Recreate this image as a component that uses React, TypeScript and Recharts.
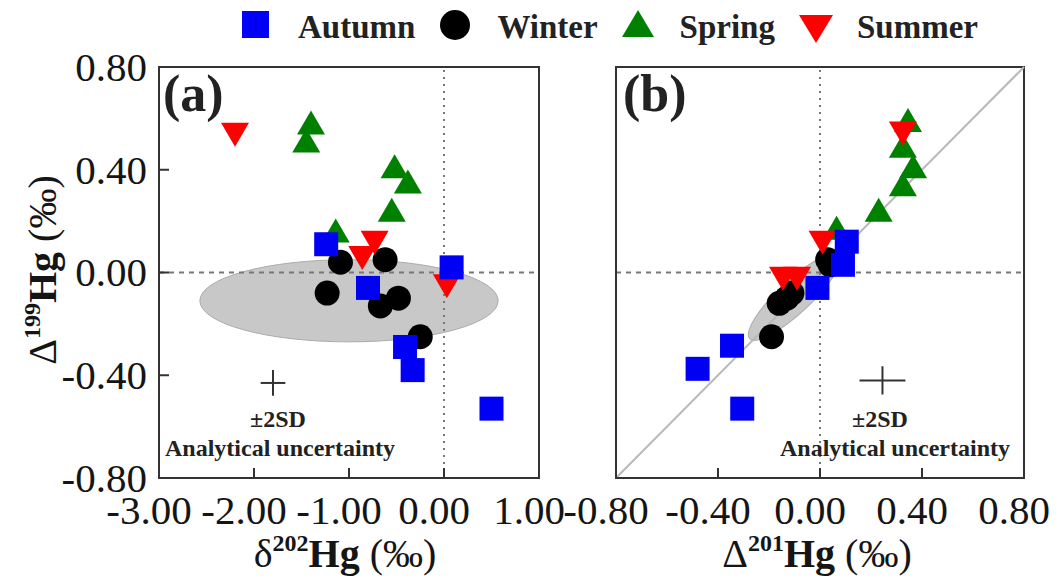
import React from "react";
import {
  ScatterChart,
  Scatter,
  XAxis,
  YAxis,
  ReferenceLine,
  ReferenceArea
} from "recharts";

const FONT = "'Liberation Serif', 'Times New Roman', serif";

// panel (a): [δ202Hg, Δ199Hg]
const autumnA = [[-1.24, 0.11], [-0.8, -0.06], [0.08, 0.02], [-0.41, -0.29], [-0.33, -0.38], [0.5, -0.53]];
const winterA = [[-1.09, 0.04], [-0.62, 0.05], [-1.23, -0.08], [-0.48, -0.1], [-0.67, -0.13], [-0.25, -0.25]];
const springA = [[-1.4, 0.58], [-1.45, 0.51], [-0.52, 0.41], [-0.38, 0.35], [-0.55, 0.24], [-1.14, 0.16]];
const summerA = [[-2.2, 0.54], [-0.73, 0.12], [-0.86, 0.06], [0.03, -0.05]];

// panel (b): [Δ201Hg, Δ199Hg]
const autumnB = [[0.105, 0.12], [0.09, 0.03], [-0.01, -0.06], [-0.345, -0.285], [-0.48, -0.375], [-0.305, -0.53]];
const winterB = [[0.03, 0.05], [0.04, 0.03], [-0.11, -0.08], [-0.13, -0.1], [-0.16, -0.12], [-0.19, -0.25]];
const springB = [[0.345, 0.59], [0.325, 0.49], [0.365, 0.41], [0.325, 0.34], [0.23, 0.24], [0.065, 0.17]];
const summerB = [[0.325, 0.545], [0.01, 0.12], [-0.09, -0.02], [-0.145, -0.02]];

const yTicks = [-0.8, -0.4, 0, 0.4, 0.8];
const xTicksA = [-3, -2, -1, 0, 1];
const xTicksB = [-0.8, -0.4, 0, 0.4, 0.8];

// gray fields: centre, half-widths, rotation
const fieldA = { cx: -1.0, cy: -0.11, a: 1.57, b: 0.16, angle: 0 };
const fieldB = { cx: -0.1, cy: -0.095, a: 0.24, b: 0.063, angle: -43 };

// ±2SD crosses
const sdA = { x: -1.8, y: -0.43, dx: 0.13, dy: 0.05 };
const sdB = { x: 0.245, y: -0.42, dx: 0.09, dy: 0.055 };

const toPts = (arr: number[][]) => arr.map(([x, y]) => ({ x, y }));

const Square = (p: any) => <rect x={p.cx - 12} y={p.cy - 12} width={24} height={24} fill="#0000f5" />;
const Circle = (p: any) => <circle cx={p.cx} cy={p.cy} r={12.5} fill="#000" />;
const TriUp = (p: any) => (
  <path d={`M${p.cx},${p.cy - 13} L${p.cx + 14},${p.cy + 11} L${p.cx - 14},${p.cy + 11} Z`} fill="#008000" />
);
const TriDown = (p: any) => (
  <path d={`M${p.cx - 14},${p.cy - 11} L${p.cx + 14},${p.cy - 11} L${p.cx},${p.cy + 13} Z`} fill="#ff0000" />
);

const seasons = [
  { name: "Autumn", legend: <rect x={2} y={2} width={27} height={27} fill="#0000f5" /> },
  { name: "Winter", legend: <circle cx={16} cy={16} r={15} fill="#000" /> },
  { name: "Spring", legend: <path d="M16,1 L32,28 L0,28 Z" fill="#008000" /> },
  { name: "Summer", legend: <path d="M0,6 L34,6 L17,34 Z" fill="#ff0000" /> }
];

const fieldShape = (angle: number) => (p: any) => {
  const cx = p.x + p.width / 2;
  const cy = p.y + p.height / 2;
  return (
    <ellipse
      cx={cx}
      cy={cy}
      rx={p.width / 2}
      ry={p.height / 2}
      transform={`rotate(${angle} ${cx} ${cy})`}
      fill="#c8c8c8"
      stroke="#ababab"
      strokeWidth={1}
    />
  );
};

const XTick = (p: any) => (
  <text x={p.x - 10} y={p.y} dy="0.71em" textAnchor="middle" fontFamily={FONT} fontSize={41} fill="#151515">
    {Number(p.payload.value).toFixed(2)}
  </text>
);
const YTick = (p: any) => (
  <text x={p.x} y={p.y} dy="0.34em" textAnchor="end" fontFamily={FONT} fontSize={41} fill="#151515">
    {Number(p.payload.value).toFixed(2)}
  </text>
);

function Panel({
  width,
  margin,
  xDomain,
  xTicks,
  field,
  sd,
  data,
  showYLabels,
  diagonal
}: any) {
  return (
    <ScatterChart width={width} height={581} margin={margin}>
      <XAxis
        type="number"
        dataKey="x"
        domain={xDomain}
        ticks={xTicks}
        interval={0}
        allowDataOverflow
        height={1}
        tickSize={-10}
        tickMargin={27}
        tick={<XTick />}
        axisLine={{ stroke: "#333", strokeWidth: 2 }}
        tickLine={{ stroke: "#333", strokeWidth: 2 }}
      />
      <YAxis
        type="number"
        dataKey="y"
        domain={[-0.8, 0.8]}
        ticks={yTicks}
        interval={0}
        allowDataOverflow
        width={1}
        tickSize={-10}
        tickMargin={22}
        tick={showYLabels ? <YTick /> : false}
        axisLine={{ stroke: "#333", strokeWidth: 2 }}
        tickLine={{ stroke: "#333", strokeWidth: 2 }}
      />
      <ReferenceArea
        x1={field.cx - field.a}
        x2={field.cx + field.a}
        y1={field.cy - field.b}
        y2={field.cy + field.b}
        shape={fieldShape(field.angle)}
      />
      {diagonal && (
        <ReferenceLine
          segment={[{ x: xDomain[0], y: -0.8 }, { x: xDomain[1], y: 0.8 }]}
          stroke="#b8b8b8"
          strokeWidth={2}
        />
      )}
      <ReferenceLine x={0} stroke="#777" strokeWidth={2} strokeDasharray="2 5" />
      <ReferenceLine y={0} stroke="#777" strokeWidth={2} strokeDasharray="5 5" />
      <ReferenceLine segment={[{ x: sd.x - sd.dx, y: sd.y }, { x: sd.x + sd.dx, y: sd.y }]} stroke="#333" strokeWidth={2} />
      <ReferenceLine segment={[{ x: sd.x, y: sd.y - sd.dy }, { x: sd.x, y: sd.y + sd.dy }]} stroke="#333" strokeWidth={2} />
      <ReferenceArea x1={xDomain[0]} x2={xDomain[1]} y1={-0.8} y2={0.8} fill="none" stroke="#333" strokeWidth={2} />
      <Scatter name="Spring" data={toPts(data.spring)} shape={TriUp} isAnimationActive={false} />
      <Scatter name="Winter" data={toPts(data.winter)} shape={Circle} isAnimationActive={false} />
      <Scatter name="Summer" data={toPts(data.summer)} shape={TriDown} isAnimationActive={false} />
      <Scatter name="Autumn" data={toPts(data.autumn)} shape={Square} isAnimationActive={false} />
    </ScatterChart>
  );
}

export default function App() {
  const noteStyle = { fontFamily: FONT, fontWeight: 700, fontSize: 24, fill: "#222" };
  return (
    <div style={{ position: "absolute", left: 0, top: 0, width: 1063, height: 581, background: "#fff", overflow: "hidden" }}>
      <div style={{ position: "absolute", left: 0, top: 0 }}>
        <Panel
          width={600}
          margin={{ top: 67, right: 61, bottom: 102, left: 158 }}
          xDomain={[-3, 1]}
          xTicks={xTicksA}
          field={fieldA}
          sd={sdA}
          data={{ autumn: autumnA, winter: winterA, spring: springA, summer: summerA }}
          showYLabels
        />
      </div>
      <div style={{ position: "absolute", left: 560, top: 0 }}>
        <Panel
          width={503}
          margin={{ top: 67, right: 39, bottom: 102, left: 55 }}
          xDomain={[-0.8, 0.8]}
          xTicks={xTicksB}
          field={fieldB}
          sd={sdB}
          data={{ autumn: autumnB, winter: winterB, spring: springB, summer: summerB }}
          diagonal
        />
      </div>

      {/* legend */}
      <div style={{ position: "absolute", left: 240, top: 6, height: 42, display: "flex", alignItems: "center", gap: 24 }}>
        {seasons.map(s => (
          <div key={s.name} style={{ display: "flex", alignItems: "center", gap: 24 }}>
            <svg width={34} height={36} viewBox="0 0 34 36">{s.legend}</svg>
            <span style={{ fontFamily: FONT, fontWeight: 700, fontSize: 33, color: "#222" }}>{s.name}</span>
          </div>
        ))}
      </div>

      {/* titles and notes */}
      <svg width={1063} height={581} style={{ position: "absolute", left: 0, top: 0, pointerEvents: "none" }}>
        <text x={163} y={111} fontFamily={FONT} fontWeight={700} fontSize={52} fill="#222">(a)</text>
        <text x={623} y={111} fontFamily={FONT} fontWeight={700} fontSize={52} fill="#222">(b)</text>

        <text x={278} y={427} textAnchor="middle" style={noteStyle}>±2SD</text>
        <text x={280} y={456} textAnchor="middle" style={noteStyle}>Analytical uncertainty</text>
        <text x={880} y={427} textAnchor="middle" style={noteStyle}>±2SD</text>
        <text x={895} y={456} textAnchor="middle" style={noteStyle}>Analytical uncertainty</text>

        <text x={345} y={567} textAnchor="middle" fontFamily={FONT} fontSize={40} fill="#151515">
          δ<tspan dy={-16} fontSize={24} fontWeight={700}>202</tspan>
          <tspan dy={16} fontWeight={700}>Hg</tspan> (‰)
        </text>
        <text x={817} y={567} textAnchor="middle" fontFamily={FONT} fontSize={40} fill="#151515">
          Δ<tspan dy={-16} fontSize={24} fontWeight={700}>201</tspan>
          <tspan dy={16} fontWeight={700}>Hg</tspan> (‰)
        </text>
        <text
          x={0}
          y={0}
          transform="translate(56 270) rotate(-90)"
          textAnchor="middle"
          fontFamily={FONT}
          fontSize={40}
          fill="#151515"
        >
          Δ<tspan dy={-16} fontSize={24} fontWeight={700}>199</tspan>
          <tspan dy={16} fontWeight={700}>Hg</tspan> (‰)
        </text>
      </svg>
    </div>
  );
}
